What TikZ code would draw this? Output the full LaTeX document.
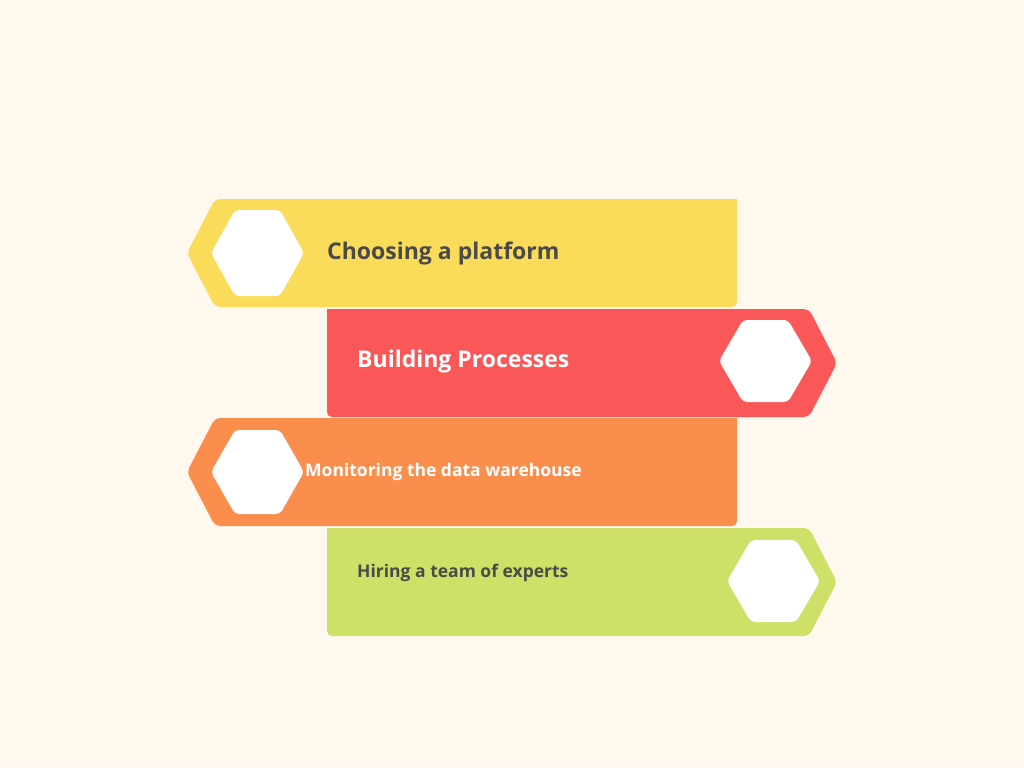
\documentclass[tikz,border=0pt]{standalone}
\usepackage{fontspec}
\setmainfont{Open Sans}
\begin{document}
\begin{tikzpicture}[x=1pt,y=-1pt,
  lbl/.style={font=\bfseries, anchor=west, inner sep=0},
  hexw/.style={fill=white, rounded corners=4pt}]
\definecolor{bg}{HTML}{FEF8EF}
\definecolor{cy}{HTML}{FADC5A}
\definecolor{cr}{HTML}{FA5858}
\definecolor{co}{HTML}{FC8E4D}
\definecolor{cg}{HTML}{CFE068}
\definecolor{tx}{HTML}{4A4A48}
\fill[bg] (0,0) rectangle (1024,768);
\useasboundingbox (0,0) rectangle (1024,768);
% yellow
\fill[cy, rounded corners=5pt] (737,199) -- (215,199) -- (187,253) -- (215,307) -- (737,307) [sharp corners] -- cycle;
\fill[hexw] (235,210) -- (280,210) -- (304,253) -- (280,296) -- (235,296) -- (211,253) -- cycle;
\node[lbl, text=tx, font=\bfseries\fontsize{23}{26}\selectfont] (t1) at (327,253) {Choosing a platform};
% red
\fill[cr, rounded corners=5pt] (327,309) -- (809,309) -- (837,363) -- (809,417) -- (327,417) [sharp corners] -- cycle;
\fill[hexw] (743,320) -- (788,320) -- (812,361) -- (788,402) -- (743,402) -- (719,361) -- cycle;
\node[lbl, text=white, font=\bfseries\fontsize{23}{26}\selectfont] (t2) at (357,362) {Building Processes};
% orange
\fill[co, rounded corners=5pt] (737,418) -- (215,418) -- (187,472) -- (215,526) -- (737,526) [sharp corners] -- cycle;
\fill[hexw] (235,430) -- (280,430) -- (304,472) -- (280,514) -- (235,514) -- (211,472) -- cycle;
\node[lbl, text=white, font=\bfseries\fontsize{17.5}{20}\selectfont] (t3) at (305,472) {Monitoring the data warehouse};
% green
\fill[cg, rounded corners=5pt] (327,528) -- (809,528) -- (837,582) -- (809,636) -- (327,636) [sharp corners] -- cycle;
\fill[hexw] (751,540) -- (796,540) -- (820,581) -- (796,622) -- (751,622) -- (727,581) -- cycle;
\node[lbl, text=tx, font=\bfseries\fontsize{17.5}{20}\selectfont] (t4) at (357,573) {Hiring a team of experts};
\end{tikzpicture}
\end{document}
